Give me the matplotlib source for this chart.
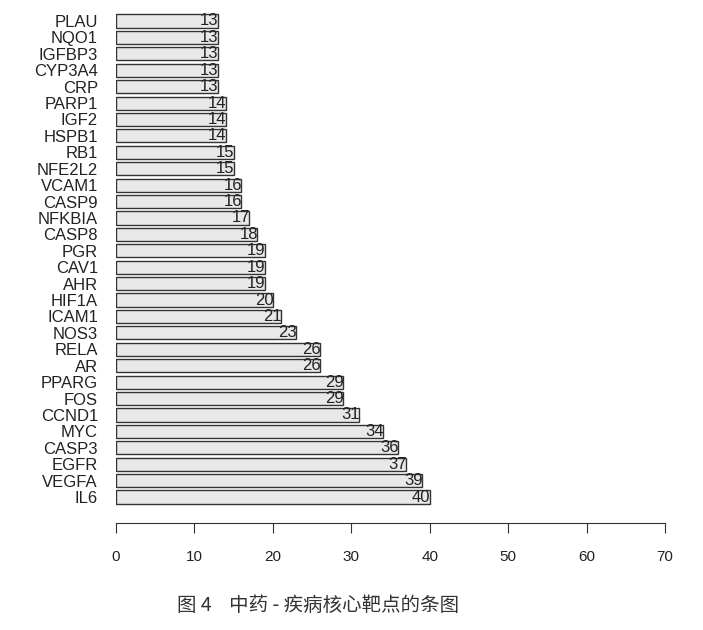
import matplotlib
matplotlib.use("Agg")
import matplotlib.pyplot as plt

# ── Data (top → bottom as shown) ─────────────────────────────────────────────
genes = ["PLAU", "NQO1", "IGFBP3", "CYP3A4", "CRP", "PARP1", "IGF2", "HSPB1",
         "RB1", "NFE2L2", "VCAM1", "CASP9", "NFKBIA", "CASP8", "PGR", "CAV1",
         "AHR", "HIF1A", "ICAM1", "NOS3", "RELA", "AR", "PPARG", "FOS",
         "CCND1", "MYC", "CASP3", "EGFR", "VEGFA", "IL6"]
counts = [13, 13, 13, 13, 13, 14, 14, 14, 15, 15, 16, 16, 17, 18, 19, 19,
          19, 20, 21, 23, 26, 26, 29, 29, 31, 34, 36, 37, 39, 40]
x_ticks = [0, 10, 20, 30, 40, 50, 60, 70]
caption = "图 4    中药 - 疾病核心靶点的条图"

plt.rcParams["font.family"] = ["Liberation Sans", "DejaVu Sans"]

W, H = 703, 630
fig = plt.figure(figsize=(W / 100, H / 100), dpi=100)
# axes spans x 116..665 px, y 10..510 px
ax = fig.add_axes([116 / W, 1 - 510 / H, (665 - 116) / W, 500 / H])

n = len(genes)
ypos = list(range(n - 1, -1, -1))  # PLAU on top
ax.barh(ypos, counts, height=0.8, color="#e8e8e8", edgecolor="#333333",
        linewidth=1.0)
for y, v in zip(ypos, counts):
    ax.text(v + 0.1, y, str(v), ha="right", va="center", fontsize=12,
            color="#222222")

ax.set_xlim(0, 70)
ax.set_ylim(-0.79, n - 1 + 0.67)
ax.set_yticks(ypos)
ax.set_yticklabels(genes, fontsize=12, color="#222222")
ax.tick_params(axis="y", length=0, pad=13)

for s in ["top", "right", "left"]:
    ax.spines[s].set_visible(False)
ax.spines["bottom"].set_position(("outward", 9.5))
ax.spines["bottom"].set_bounds(0, 70)
ax.spines["bottom"].set_color("#333333")
ax.set_xticks(x_ticks)
ax.set_xticklabels([str(t) for t in x_ticks], fontsize=11, color="#222222")
ax.tick_params(axis="x", length=7, pad=12, color="#333333")

fig.text(318 / W, 1 - 605 / H, caption, ha="center", va="center",
         fontsize=14, color="#333333",
         family=["Noto Sans CJK SC", "DejaVu Sans"])

fig.savefig("out.png", dpi=100)
plt.close(fig)
